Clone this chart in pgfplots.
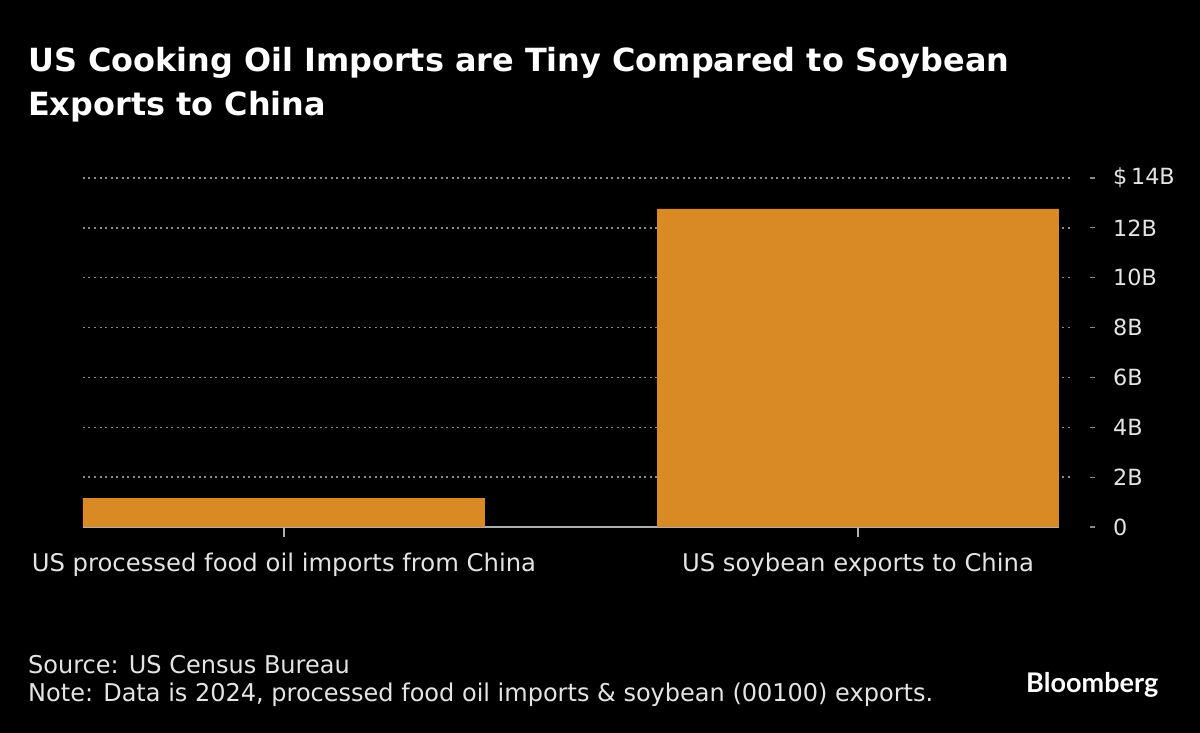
\documentclass[border=0pt]{standalone}
\usepackage{pgfplots}
\pgfplotsset{compat=1.18}
\usepackage{fontspec}
\setmainfont{DejaVu Sans}
\newfontfamily\titlefont{DejaVu Sans}
\newfontfamily\srcfont{DejaVu Sans}[FakeStretch=0.98]
\newfontfamily\logofont{Lato}
\definecolor{barcol}{HTML}{DA8A25}
\definecolor{txtcol}{HTML}{E4E4E4}
\definecolor{gridcol}{HTML}{8A8A8A}
\definecolor{basecol}{HTML}{B0B0B0}
\begin{document}
\begin{tikzpicture}[x=1pt,y=1pt]
\fill[black] (0,0) rectangle (1200,733);
\node[anchor=base west, inner sep=0pt, text=white] at (28,661) {\titlefont\bfseries\fontsize{31.9}{36}\selectfont US Cooking Oil Imports are Tiny Compared to Soybean};
\node[anchor=base west, inner sep=0pt, text=white] at (28,617) {\titlefont\bfseries\fontsize{31.9}{36}\selectfont Exports to China};
\begin{axis}[
  at={(83pt,206pt)}, anchor=south west,
  scale only axis, width=1007pt, height=349pt,
  xmin=-0.35, xmax=1.4042, ymin=0, ymax=14,
  clip=false,
  axis line style={draw=none},
  axis y line*=right, axis x line*=bottom,
  ytick={0,2,4,6,8,10,12,14},
  yticklabels={0,2B,4B,6B,8B,10B,12B,{\$\,14B}},
  xtick={0,1},
  xticklabels={US processed food oil imports from China, US soybean exports to China},
  tick align=outside, major tick length=5pt,
  xtick style={draw=none},
  ytick style={gridcol, line width=1.2pt},
  yticklabel style={anchor=west, inner sep=0pt, xshift=18pt, text=txtcol, font=\fontsize{22.3}{26}\selectfont},
  xticklabel style={anchor=base, inner sep=0pt, yshift=-40pt, text=txtcol, font=\fontsize{24.3}{28}\selectfont},
]
\pgfplotsinvokeforeach{2,4,6,8,10,12,14}{
  \draw[gridcol, dash pattern=on 2pt off 3.5pt, line width=1.3pt] (axis cs:-0.35,#1) -- (axis cs:1.3728,#1);
}
\draw[basecol, line width=1.3pt] (axis cs:-0.35,0) -- (axis cs:1.35,0);
\draw[basecol, line width=1.3pt] (axis cs:0,0) -- ([yshift=-10pt]axis cs:0,0);
\draw[basecol, line width=1.3pt] (axis cs:1,0) -- ([yshift=-10pt]axis cs:1,0);
\addplot[ybar, bar width=0.7, fill=barcol, draw=none] coordinates {(0,1.16) (1,12.76)};
\end{axis}
\node[anchor=base west, inner sep=0pt, text=txtcol] at (28,59) {\srcfont\fontsize{24.5}{27}\selectfont Source: US Census Bureau};
\node[anchor=base west, inner sep=0pt, text=txtcol] at (28,31) {\srcfont\fontsize{24.5}{27}\selectfont Note: Data is 2024, processed food oil imports \& soybean (00100) exports.};
\node[anchor=base west, inner sep=0pt, text=white] at (1026,40) {\resizebox{132pt}{!}{\logofont\bfseries Bloomberg}};
\end{tikzpicture}
\end{document}
